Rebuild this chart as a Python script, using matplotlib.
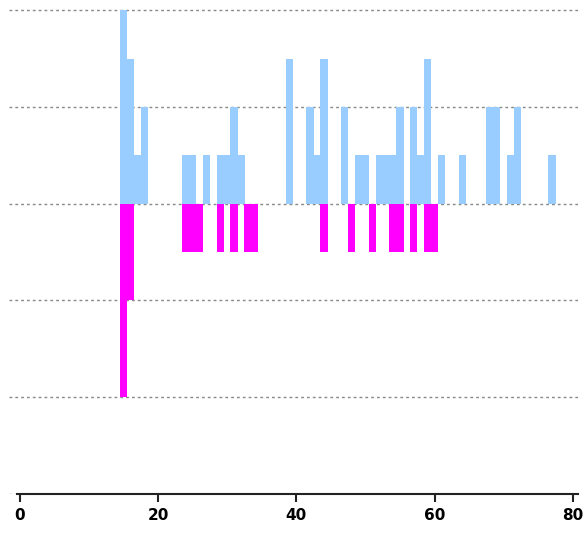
import numpy as np
import matplotlib.pyplot as plt

# counts per position (above and below the zero line)
up_x = [15, 16, 17, 18, 24, 25, 27, 29, 30, 31, 32, 39, 42, 43, 44, 47, 49, 50,
        52, 53, 54, 55, 57, 58, 59, 61, 64, 68, 69, 71, 72, 77]
up_y = [4, 3, 1, 2, 1, 1, 1, 1, 1, 2, 1, 3, 2, 1, 3, 2, 1, 1,
        1, 1, 1, 2, 2, 1, 3, 1, 1, 2, 2, 1, 2, 1]

down_x = [15, 16, 24, 25, 26, 29, 31, 33, 34, 44, 48, 51, 54, 55, 57, 59, 60]
down_y = [-4, -2, -1, -1, -1, -1, -1, -1, -1, -1, -1, -1, -1, -1, -1, -1, -1]

x_ticks = [0, 20, 40, 60, 80]
grid_levels = [-6, -4, -2, 0, 2, 4]

fig = plt.figure(figsize=(5.84, 5.35), dpi=100)
ax = fig.add_axes([9 / 584, 1 - 494 / 535, 569 / 584, 494 / 535])

for lvl in grid_levels:
    ax.axhline(lvl, color="#888888", linewidth=1, linestyle=(0, (2, 2.2)), zorder=1)

ax.bar(up_x, up_y, width=1.05, color="#99ccff", linewidth=0, zorder=2)
ax.bar(down_x, down_y, width=1.05, color="#ff00ff", linewidth=0, zorder=2)

ax.set_xlim(-1.55, 80.75)
ax.set_ylim(-6, 4.21)
ax.set_xticks(x_ticks)
ax.set_xticklabels([str(t) for t in x_ticks], fontsize=11, fontweight="bold")
ax.set_yticks([])

for side in ["top", "right", "left"]:
    ax.spines[side].set_visible(False)
ax.spines["bottom"].set_bounds(-0.35, 80.75)
ax.spines["bottom"].set_linewidth(1.5)
ax.spines["bottom"].set_color("#222222")
ax.spines["bottom"].set_zorder(3)
ax.tick_params(axis="x", length=6, width=1.5, color="#222222", pad=4)

fig.savefig("out.png", dpi=100)
